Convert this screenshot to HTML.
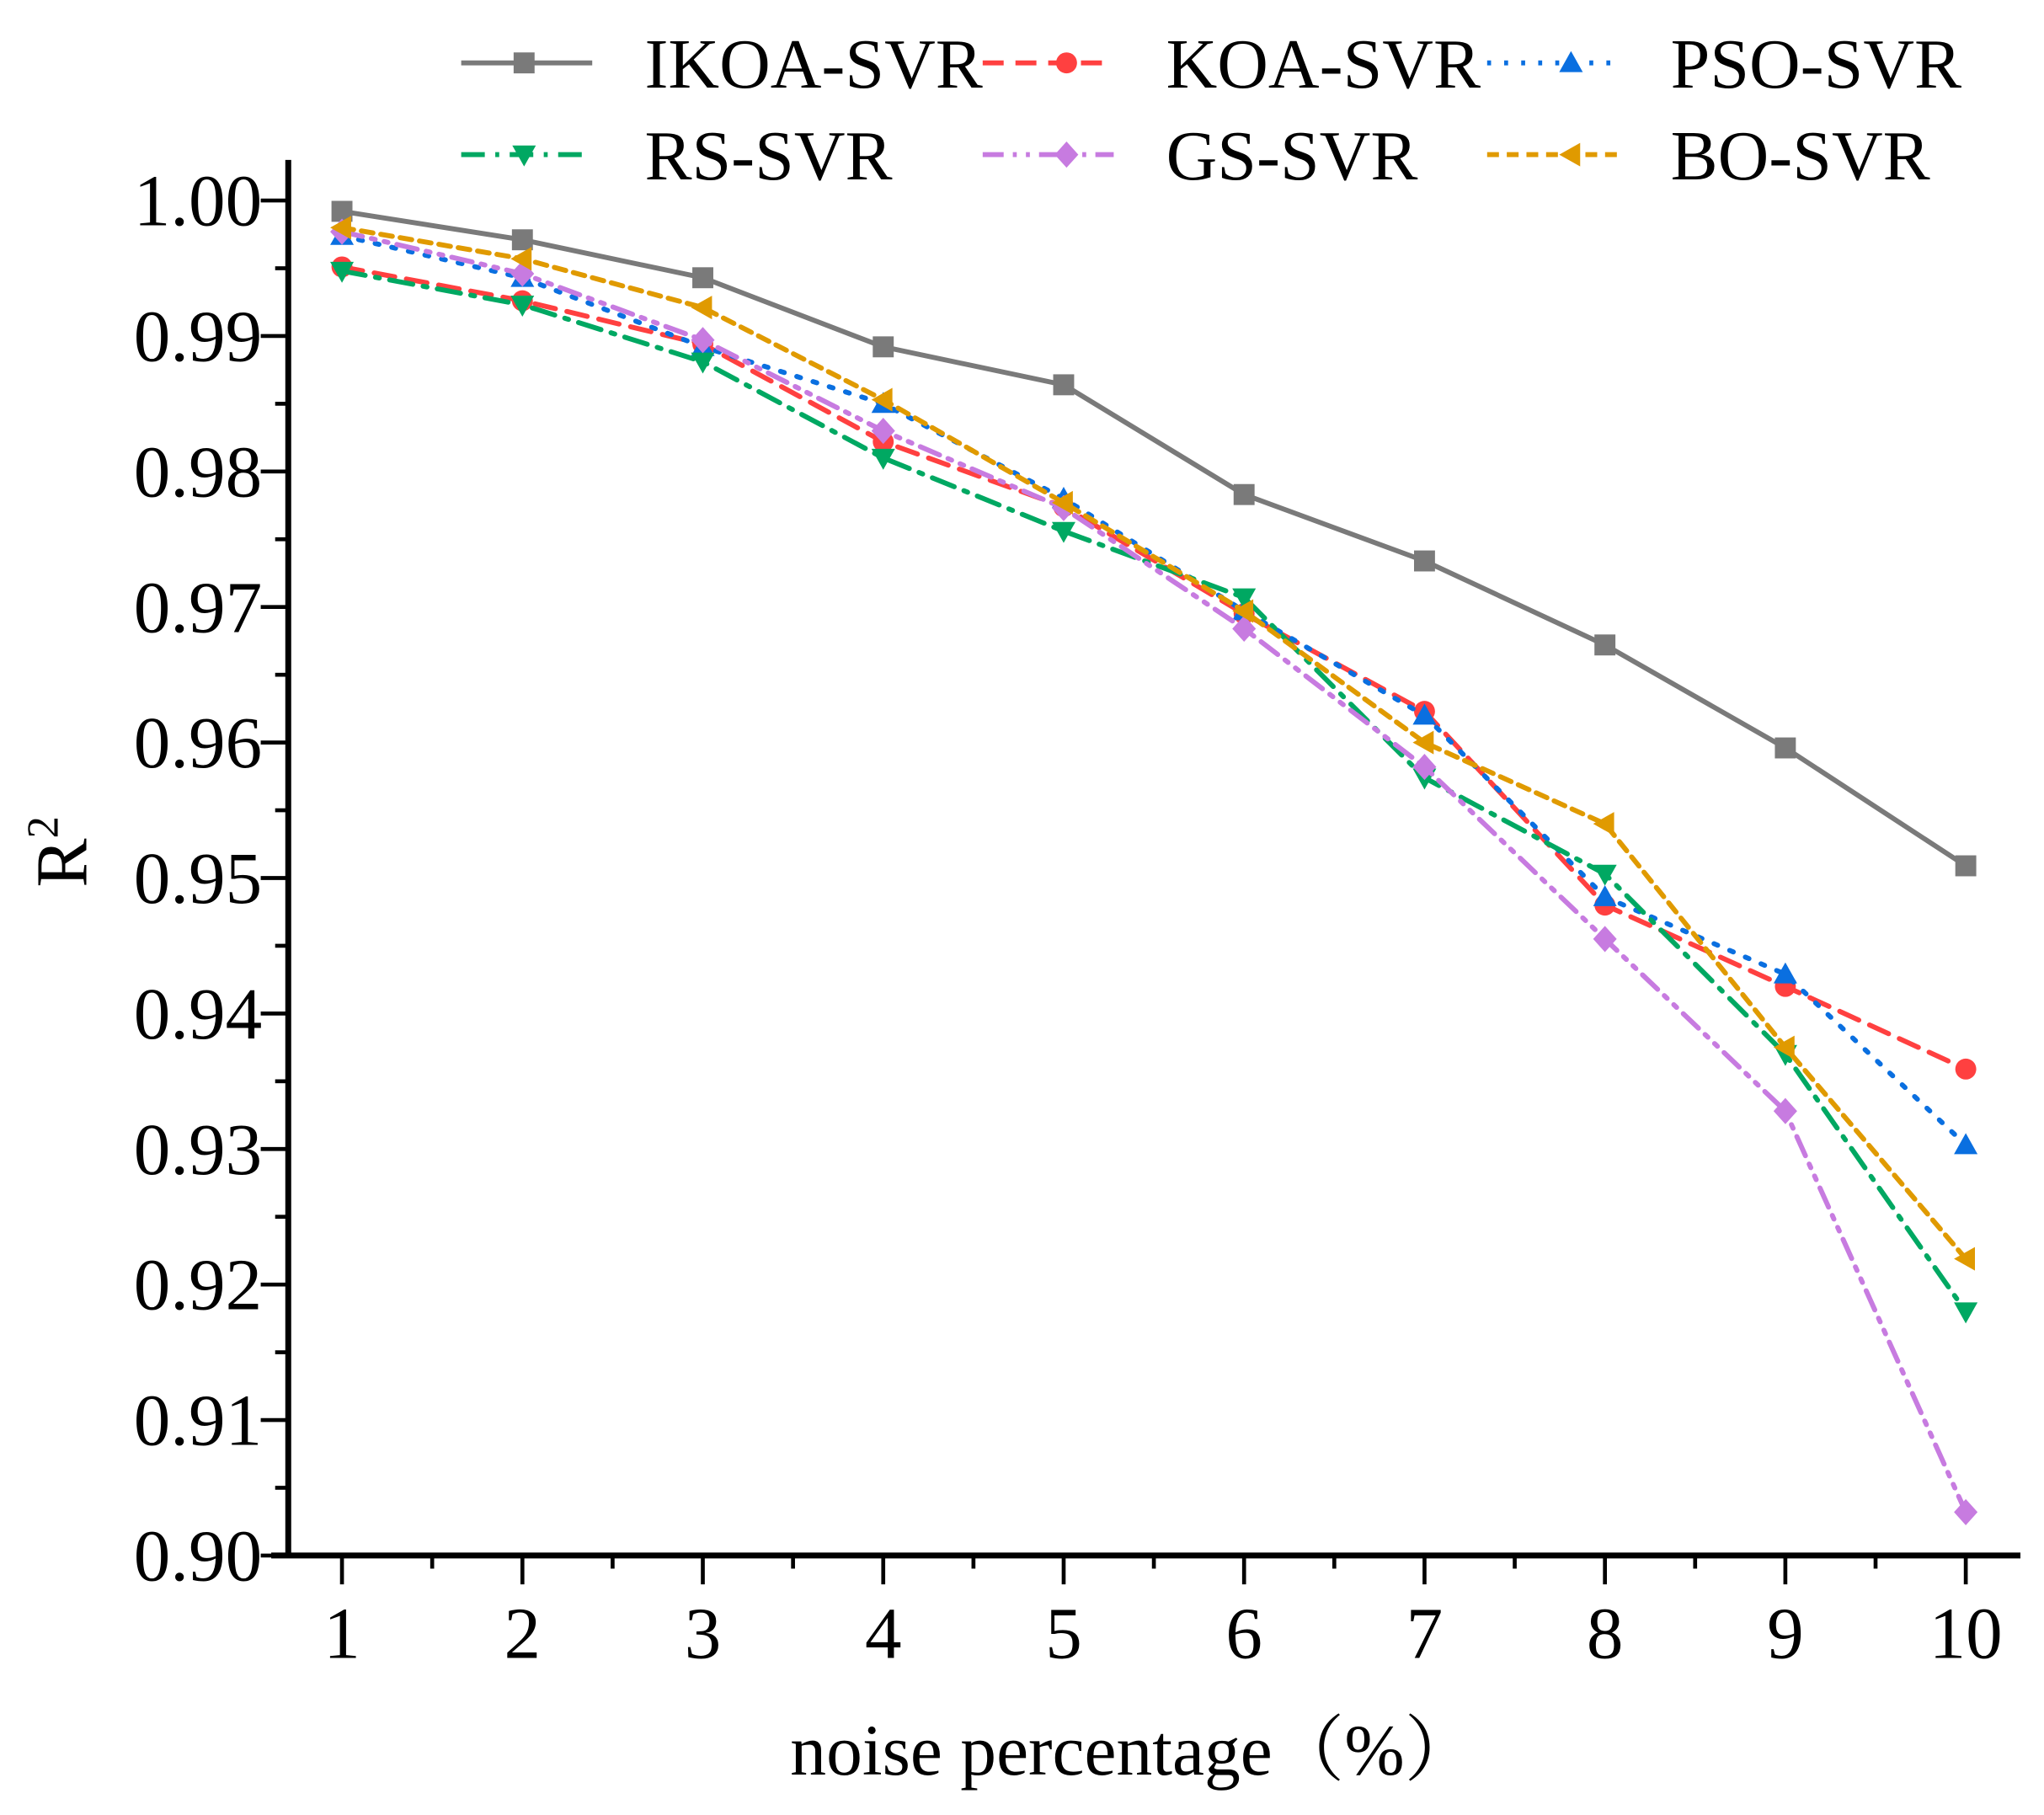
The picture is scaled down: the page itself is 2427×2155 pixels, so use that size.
<!DOCTYPE html>
<html><head><meta charset="utf-8"><style>
html,body{margin:0;padding:0;background:#fff;}
svg{display:block;font-family:"Liberation Serif",serif;}
</style></head><body>
<svg id="chart" width="2427" height="2155" viewBox="0 0 1560 1385" preserveAspectRatio="none" xmlns="http://www.w3.org/2000/svg">
<g id="axes"></g>
<g id="series"></g>
<g id="legend"></g>
<text transform="translate(66,650) rotate(-90)" text-anchor="middle" font-size="56">R<tspan font-size="34" dy="-22">2</tspan></text>
<text x="865" y="1354" text-anchor="middle" font-size="55" font-family="'Liberation Serif','Noto Serif CJK SC',serif">noise percentage（%）</text>
</svg>
<script>
const categories = [1,2,3,4,5,6,7,8,9,10];
const yTicks = [0.90,0.91,0.92,0.93,0.94,0.95,0.96,0.97,0.98,0.99,1.00];
const seriesNames = ["IKOA-SVR","KOA-SVR","PSO-SVR","RS-SVR","GS-SVR","BO-SVR"];
const ikoa = [0.9992,0.9971,0.9943,0.9892,0.9864,0.9783,0.9734,0.9672,0.9596,0.9509];
const koa  = [0.9951,0.9926,0.9894,0.9822,0.9774,0.9695,0.9623,0.9480,0.9420,0.9359];
const pso  = [0.9974,0.9943,0.9892,0.9850,0.9780,0.9697,0.9620,0.9486,0.9429,0.9303];
const rs   = [0.9948,0.9923,0.9881,0.9810,0.9756,0.9707,0.9574,0.9503,0.9370,0.9180];
const gs   = [0.9977,0.9946,0.9897,0.9830,0.9773,0.9684,0.9582,0.9455,0.9328,0.9032];
const bo   = [0.9980,0.9957,0.9921,0.9853,0.9777,0.9697,0.9600,0.9540,0.9375,0.9219];

const NS="http://www.w3.org/2000/svg";
const X0=220, Y0=1187, YT=153, XL=1542, YTOP=122;
const xs = v => 261 + (v-1)*137.7;
const ys = v => Y0 - (v-0.90)/0.10*(Y0-YT);
function mk(tag, attrs, parent){const e=document.createElementNS(NS,tag);for(const k in attrs)e.setAttribute(k,attrs[k]);parent.appendChild(e);return e;}
const axes=document.getElementById('axes');
let e;
e=mk('line',{x1:X0,y1:YTOP,x2:X0,y2:Y0+2,stroke:'#000','stroke-width':4.5},axes);


e=mk('line',{x1:X0-13,y1:Y0,x2:XL,y2:Y0,stroke:'#000','stroke-width':4.5},axes);


yTicks.forEach((t,i)=>{
  const y=ys(t);
  e=mk('line',{x1:X0-21,y1:y,x2:X0,y2:y,stroke:'#000','stroke-width':3},axes);
  
  
  if(i<yTicks.length-1){
    const ym=ys(t+0.005);
    e=mk('line',{x1:X0-10,y1:ym,x2:X0,y2:ym,stroke:'#000','stroke-width':3},axes);
    
    
  }
  e=mk('text',{x:X0-20,y:y+19,'text-anchor':'end','font-size':56},axes);
  e.textContent=t.toFixed(2);
  
  
});
categories.forEach((c,i)=>{
  const x=xs(c);
  e=mk('line',{x1:x,y1:Y0,x2:x,y2:Y0+22,stroke:'#000','stroke-width':3},axes);
  
  
  const xm=xs(c+0.5);
  if(xm<XL){
    e=mk('line',{x1:xm,y1:Y0,x2:xm,y2:Y0+10,stroke:'#000','stroke-width':3},axes);
    
    
  }
  e=mk('text',{x:x,y:Y0+78,'text-anchor':'middle','font-size':56},axes);
  e.textContent=String(c);
  
  
});

const styles=[
 {d:ikoa,c:'#7a7a7a',dash:'',m:'square'},
 {d:koa,c:'#ff4040',dash:'16 9',m:'circle'},
 {d:pso,c:'#0a6fe0',dash:'3 10',m:'tri-up'},
 {d:rs,c:'#00a862',dash:'18 8 3 8',m:'tri-down'},
 {d:gs,c:'#c77be0',dash:'16 7 3 7 3 7',m:'diamond'},
 {d:bo,c:'#e09a00',dash:'9 6',m:'tri-left'}
];
function marker(type,x,y,c,parent){
  const s=8;
  let el;
  if(type==='square') el=mk('rect',{x:x-s,y:y-s,width:2*s,height:2*s,fill:c},parent);
  else if(type==='circle') el=mk('circle',{cx:x,cy:y,r:s,fill:c},parent);
  else {
    let p;
    if(type==='tri-up') p=[[x,y-s-1],[x-s-1,y+s-1],[x+s+1,y+s-1]];
    if(type==='tri-down') p=[[x,y+s+1],[x-s-1,y-s+1],[x+s+1,y-s+1]];
    if(type==='tri-left') p=[[x-s-1,y],[x+s-1,y-s-1],[x+s-1,y+s+1]];
    if(type==='diamond') p=[[x,y-s-2],[x+s+1,y],[x,y+s+2],[x-s-1,y]];
    el=mk('polygon',{points:p.map(q=>q.join(',')).join(' '),fill:c},parent);
  }
  return el;
}
const sg=document.getElementById('series');
styles.forEach((st,si)=>{
  const g=mk('g',{},sg);
  
  
  const pts=st.d.map((v,i)=>xs(categories[i])+','+ys(v)).join(' ');
  const pl=mk('polyline',{points:pts,fill:'none',stroke:st.c,'stroke-width':3.8,'stroke-dasharray':st.dash,'stroke-linecap':'round'},g);
  
  
  st.d.forEach((v,i)=>{
    const m=marker(st.m,xs(categories[i]),ys(v),st.c,g);
    
    
  });
});
const lg=document.getElementById('legend');
const lpos=[[352,48],[750,48],[1135,48],[352,118],[750,118],[1135,118]];
styles.forEach((st,si)=>{
  const [lx,ly]=lpos[si];
  const g=mk('g',{},lg);
  
  
  mk('line',{x1:lx,y1:ly,x2:lx+100,y2:ly,stroke:st.c,'stroke-width':3.8,'stroke-dasharray':st.dash},g);
  marker(st.m,lx+(si%3===0?48:64),ly,st.c,g);
  const t=mk('text',{x:lx+140,y:ly+19,'font-size':54},g);
  t.textContent=seriesNames[si];
  
  
});
</script>
</body></html>
